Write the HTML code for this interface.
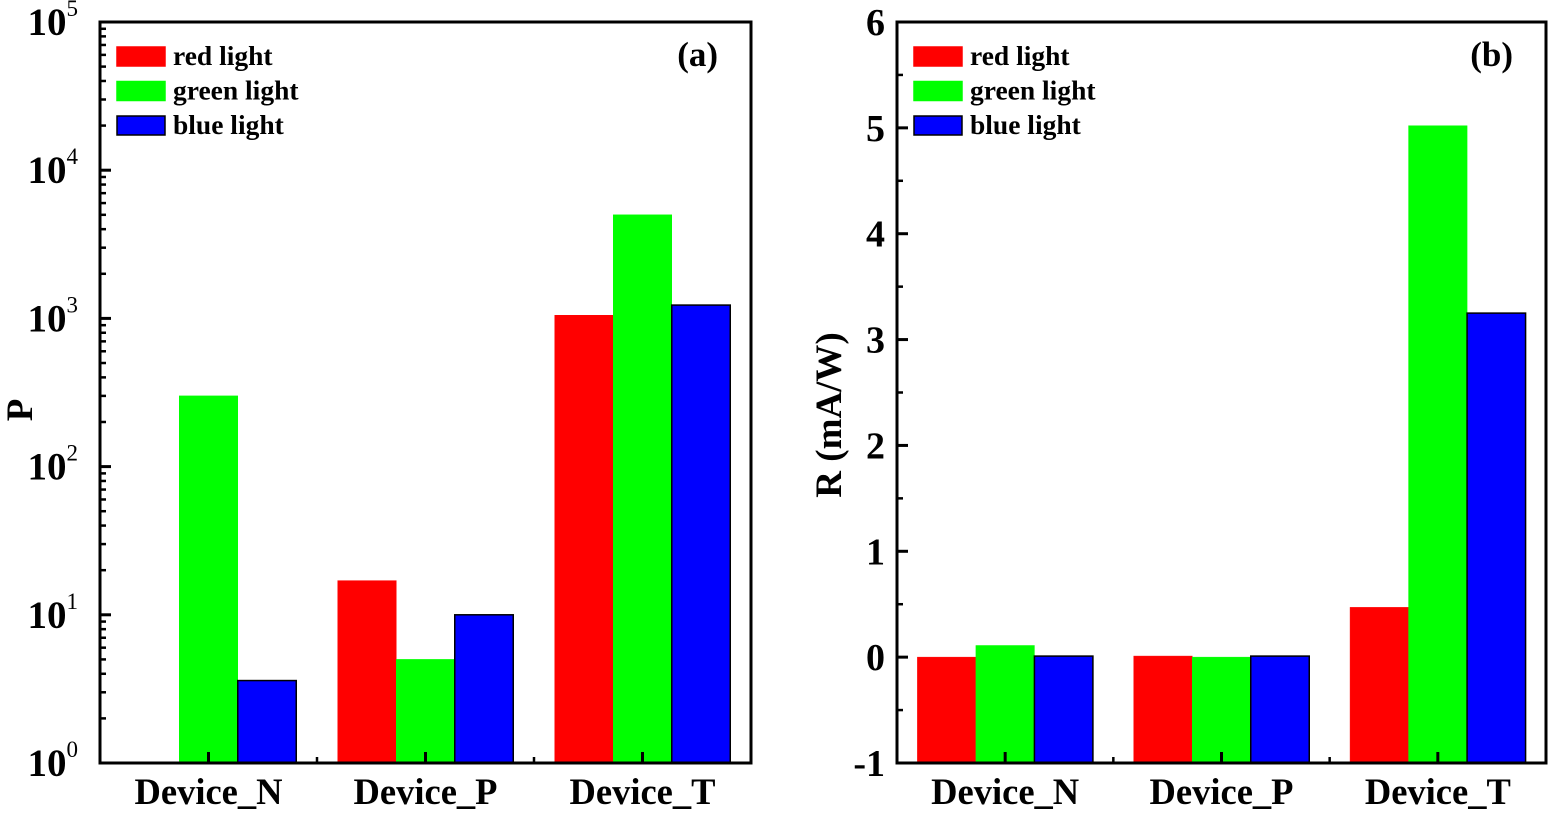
<!DOCTYPE html>
<html><head><meta charset="utf-8"><style>
html,body{margin:0;padding:0;background:#fff}
svg{display:block;font-family:"Liberation Serif",serif;font-weight:bold}
</style></head><body>
<svg id="c" width="1550" height="814" xmlns="http://www.w3.org/2000/svg"></svg>
<script>
const categories = ["Device_N","Device_P","Device_T"];
const seriesNames = ["red light","green light","blue light"];
const colors = ["#ff0000","#00ff00","#0000ff"];
const pRed = [null,17,1050];
const pGreen = [300,5,5000];
const pBlue = [3.6,10,1230];
const rRed = [0,0.01,0.47];
const rGreen = [0.11,0,5.02];
const rBlue = [0.01,0.01,3.25];
const pTicks = [0,1,2,3,4,5];
const rTicks = [-1,0,1,2,3,4,5,6];

const NS="http://www.w3.org/2000/svg";
const svg=document.getElementById('c');
function el(tag,attrs,parent,text){const e=document.createElementNS(NS,tag);for(const k in attrs)e.setAttribute(k,attrs[k]);if(text!==undefined)e.textContent=text;(parent||svg).appendChild(e);return e;}

function panel(cfg){
  const g=el('g',{});
  
  
  const {x0,x1,y0,y1}=cfg;
  const xs=i=>x0+(i+0.5)*(x1-x0)/3;
  const bw=58.5;
  const series=[cfg.s0,cfg.s1,cfg.s2];
  series.forEach((arr,si)=>{
    arr.forEach((v,ci)=>{
      if(v===null||v===undefined)return;
      const yv=cfg.ys(v);
      const cx=xs(ci)+(si-1)*bw;
      const r=el('rect',{x:cx-bw/2,y:Math.min(yv,y1),width:bw,height:Math.abs(y1-yv),fill:colors[si],stroke:si===2?'#000':colors[si],'stroke-width':si===2?1.5:0.5},g);
      
      
    });
  });
  const f=el('rect',{x:x0,y:y0,width:x1-x0,height:y1-y0,fill:'none',stroke:'#000','stroke-width':3},g);
  
  
  cfg.majors.forEach(t=>{
    const y=cfg.yt(t);
    el('line',{x1:x0,x2:x0+11,y1:y,y2:y,stroke:'#000','stroke-width':3},g);
    cfg.label(g,t,x0,y);
  });
  cfg.minors.forEach(y=>el('line',{x1:x0,x2:x0+6,y1:y,y2:y,stroke:'#000','stroke-width':2.5},g));
  categories.forEach((c,i)=>{
    el('line',{x1:xs(i),x2:xs(i),y1:y1,y2:y1-11,stroke:'#000','stroke-width':3},g);
    if(i<2){const xb=(xs(i)+xs(i+1))/2;el('line',{x1:xb,x2:xb,y1:y1,y2:y1-6,stroke:'#000','stroke-width':2.5},g);}
    const t=el('text',{x:xs(i),y:y1+41,'text-anchor':'middle','font-size':36.5},g,c);
    
    
  });
  seriesNames.forEach((n,i)=>{
    const y=y0+25+i*34.5;
    const lr=el('rect',{x:x0+17,y:y,width:48,height:19,fill:colors[i],stroke:i===2?'#000':colors[i],'stroke-width':1.5},g);
    
    
    const lt=el('text',{x:x0+73,y:y+18,'font-size':27.5},g,n);
    
    
  });
  const pl=el('text',{x:x1-33,y:y0+44,'text-anchor':'end','font-size':35},g,cfg.tag);
  
  
  const yt=el('text',{transform:`translate(${cfg.ytx},${cfg.yty}) rotate(-90)`,'text-anchor':'middle','font-size':37},g,cfg.ytitle);
  
  
}

const Ly0=22,Ly1=763;
const lys=v=>Ly1-Math.log10(v)*(Ly1-Ly0)/5;
const lminors=[];
for(let d=0;d<5;d++)for(let m=2;m<10;m++)lminors.push(lys(m*Math.pow(10,d)));
panel({name:'panel-a',x0:100,x1:751,y0:Ly0,y1:Ly1,s0:pRed,s1:pGreen,s2:pBlue,ys:lys,
  yt:t=>lys(Math.pow(10,t)),majors:pTicks,minors:lminors,tag:'(a)',ytitle:'P',ytx:32,yty:410,
  label:(g,t,x,y)=>{const tx=el('text',{x:x-22,y:y+13,'text-anchor':'end','font-size':39},g);
    
    el('tspan',{},tx,'10');el('tspan',{dy:-19,'font-size':23,'font-weight':'normal'},tx,String(t));}});

const Ry0=22,Ry1=763;
const rys=v=>Ry1-(v+1)*(Ry1-Ry0)/7;
const rminors=[];for(let t=-1;t<6;t++)rminors.push(rys(t+0.5));
panel({name:'panel-b',x0:897,x1:1546,y0:Ry0,y1:Ry1,s0:rRed,s1:rGreen,s2:rBlue,ys:rys,
  yt:rys,majors:rTicks,minors:rminors,tag:'(b)',ytitle:'R (mA/W)',ytx:841,yty:415,
  label:(g,t,x,y)=>{const tx=el('text',{x:x-12,y:y+13,'text-anchor':'end','font-size':38},g,String(t));
    }});
</script>
</body></html>
